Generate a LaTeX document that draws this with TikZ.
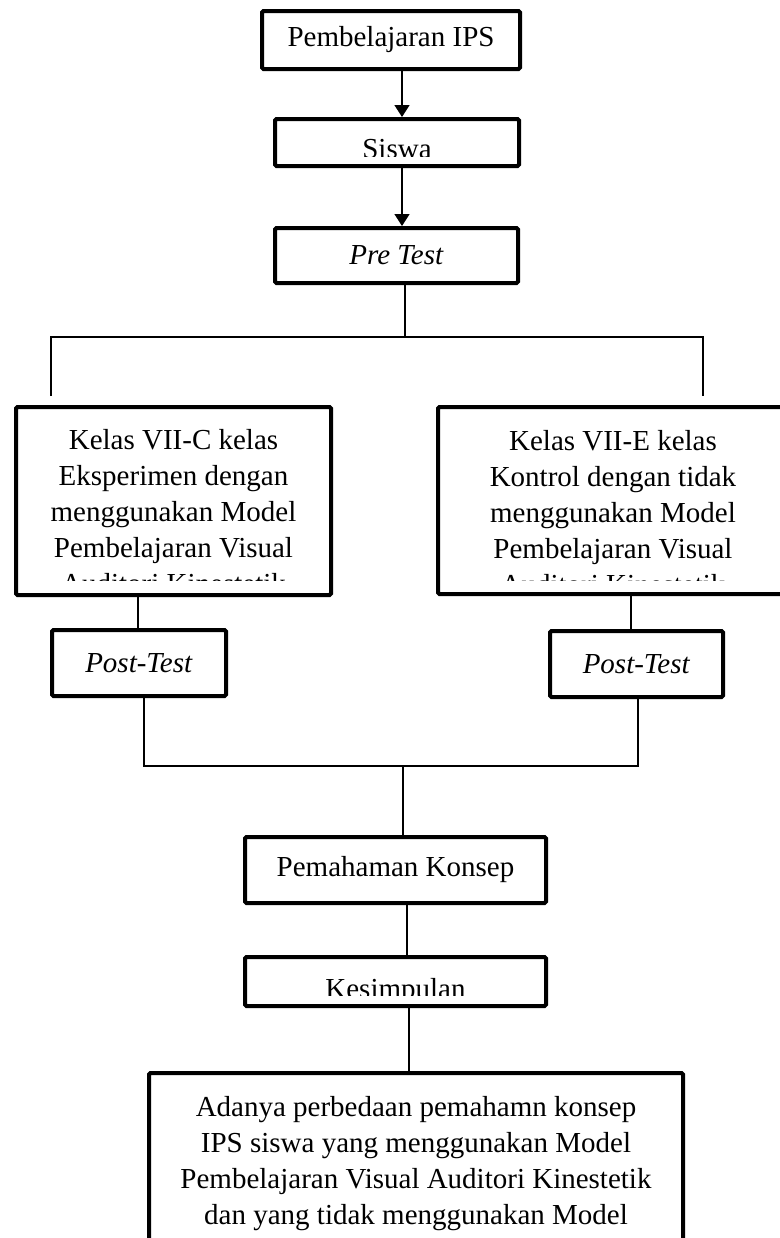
\documentclass[tikz,border=0pt]{standalone}
\usepackage{fontspec}
\setmainfont{Liberation Serif}
\usetikzlibrary{calc,arrows.meta}

\begin{document}
\begin{tikzpicture}[x=0.5pt,y=-0.5pt,
    box/.style={draw, line width=2pt, rounded corners=0.75pt, inner sep=0pt,
      align=center, font=\fontsize{14.5}{18}\selectfont},
    link/.style={line width=0.75pt},
    cut text/.style n args={3}{path picture={
      \clip (path picture bounding box.north west)
        rectangle ([yshift=#2]path picture bounding box.south east);
      \node[anchor=north, inner sep=0pt, minimum width=0pt, minimum height=0pt,
        align=center, font=\fontsize{14.5}{18}\selectfont]
        at ([yshift=-#1]path picture bounding box.north) {#3};}}]
    \useasboundingbox (0,0) rectangle (780,1238);

    % draw boxes
    \node[box, minimum width=129pt, minimum height=29pt] (ips) at (391,40) {Pembelajaran IPS};
    \node[box, minimum width=122pt, minimum height=23.5pt,
      cut text={9.25pt}{5pt}{Siswa}] (siswa) at (397,142.5) {};
    \node[box, minimum width=121.5pt, minimum height=27.5pt] (pre) at (396.5,255.5) {\textit{Pre Test}};
    \node[box, minimum width=157.5pt, minimum height=94pt,
      cut text={10pt}{7.5pt}{Kelas VII-C kelas\\Eksperimen dengan\\menggunakan Model\\Pembelajaran Visual\\Auditori Kinestetik}]
      (kelasC) at (173.5,501) {};
    \node[box, minimum width=175pt, minimum height=93.5pt,
      cut text={10.5pt}{7pt}{Kelas VII-E kelas\\Kontrol dengan tidak\\menggunakan Model\\Pembelajaran Visual\\Auditori Kinestetik}]
      (kelasE) at (613,500.5) {};
    \node[box, minimum width=87pt, minimum height=33pt] (postC) at (139,663) {\textit{Post-Test}};
    \node[box, minimum width=86.5pt, minimum height=33pt] (postE) at (636.5,664) {\textit{Post-Test}};
    \node[box, minimum width=150.5pt, minimum height=33pt] (paham) at (395.5,870) {Pemahaman Konsep};
    \node[box, minimum width=150.5pt, minimum height=24.5pt,
      cut text={9.5pt}{5.5pt}{Kesimpulan}] (simpul) at (395.5,981.5) {};
    \node[box, minimum width=267pt, minimum height=113.5pt,
      cut text={10.5pt}{0pt}{Adanya perbedaan pemahamn konsep\\IPS siswa yang menggunakan Model\\Pembelajaran Visual Auditori Kinestetik\\dan yang tidak menggunakan Model}]
      (hasil) at (416,1186.5) {};

    % draw connectors
    \coordinate (split) at (405,337);
    \coordinate (splitL) at (51,337);
    \coordinate (splitR) at (703,337);
    \coordinate (endL) at (51,396);
    \coordinate (endR) at (703,396);
    \coordinate (join) at (403,766);

    \draw[link,-{Triangle[width=7.5pt,length=6pt]}] ([xshift=5.5pt]ips.south) -- ([xshift=5.5pt]ips.south |- siswa.north);
    \draw[link,-{Triangle[width=7.5pt,length=6pt]}] ([xshift=2.5pt]siswa.south) -- ([xshift=2.5pt]siswa.south |- pre.north);
    \draw[link] ([xshift=4.25pt]pre.south) -- (split);
    \draw[link] (endL) -- (splitL) -- (splitR) -- (endR);
    \draw[link] ([xshift=-17.75pt]kelasC.south) -- ([xshift=-17.75pt]kelasC.south |- postC.north);
    \draw[link] ([xshift=9pt]kelasE.south) -- ([xshift=9pt]kelasE.south |- postE.north);
    \draw[link] ([xshift=2.5pt]postC.south) |- (join) -- (join |- paham.north);
    \draw[link] ([xshift=0.75pt]postE.south) |- (join);
    \draw[link] ([xshift=5.75pt]paham.south) -- ([xshift=5.75pt]paham.south |- simpul.north);
    \draw[link] ([xshift=6.75pt]simpul.south) -- ([xshift=6.75pt]simpul.south |- hasil.north);
  \end{tikzpicture}
\end{document}
